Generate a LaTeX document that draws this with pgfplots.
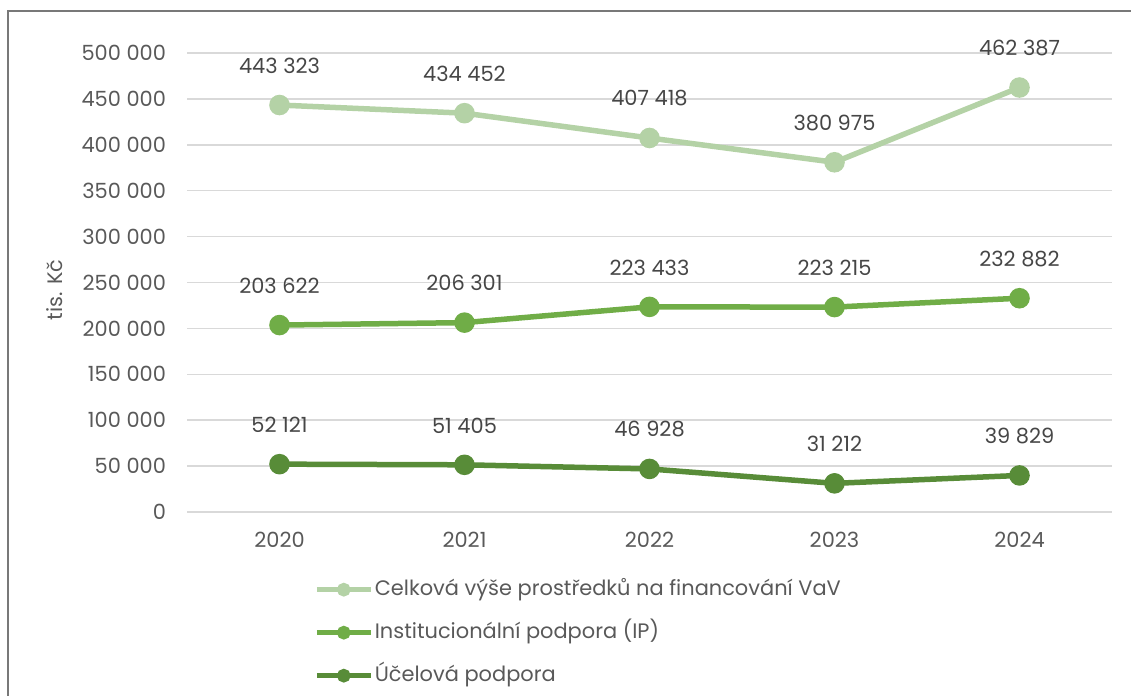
\documentclass[border=0pt]{standalone}
\usepackage{pgfplots}
\pgfplotsset{compat=1.18}
\usepackage{fontspec}
\setmainfont{Poppins}

\definecolor{svetla}{RGB}{180,210,166}
\definecolor{stredni}{RGB}{112,173,71}
\definecolor{tmava}{RGB}{88,140,56}
\definecolor{mrizka}{RGB}{217,217,217}
\definecolor{ramecek}{RGB}{120,120,120}
\definecolor{popisky}{RGB}{89,89,89}
\definecolor{hodnoty}{RGB}{70,70,70}

\begin{document}
\begin{tikzpicture}
\useasboundingbox (0,0) rectangle (565.5bp,348bp);
% orez ramecku grafu (jen levy a horni okraj)
\draw[color=ramecek, line width=0.75bp] (4bp,0) -- (4bp,342.5bp) -- (565.5bp,342.5bp);

\begin{axis}[
    at={(93.5bp,92bp)}, anchor=south west,
    scale only axis,
    width=462.5bp, height=229.5bp,
    xmin=-0.5, xmax=4.5,
    ymin=0, ymax=500000,
    xtick={0,1,2,3,4},
    xticklabels={2020,2021,2022,2023,2024},
    ytick={0,50000,100000,150000,200000,250000,300000,350000,400000,450000,500000},
    yticklabels={0,50 000,100 000,150 000,200 000,250 000,300 000,350 000,400 000,450 000,500 000},
    scaled y ticks=false,
    axis line style={draw=none},
    major tick length=0pt,
    ymajorgrids,
    grid style={color=mrizka, line width=0.75bp},
    tick label style={font=\fontsize{10.5}{12}\selectfont, color=popisky},
    yticklabel style={xshift=-7bp},
    xticklabel style={yshift=-6.75bp},
    clip=false,
    nodes near coords={\pgfplotspointmeta},
    point meta=explicit symbolic,
    every node near coord/.append style={anchor=south, yshift=12.5bp, inner sep=2bp,
        font=\fontsize{10.5}{12}\selectfont, color=hodnoty},
    legend style={at={(0.1373,-0.142)}, anchor=north west, draw=none, fill=none,
        font=\fontsize{10.5}{12}\selectfont, text=popisky,
        row sep=9.4bp, inner sep=0pt,
        nodes={inner sep=0.8bp, text height=8bp, text depth=2.5bp}},
    legend cell align=left,
    legend image code/.code={\draw[#1, line width=2.4bp, mark size=2.2bp, mark repeat=2, mark phase=2]
        plot coordinates {(0bp,0bp) (13.5bp,0bp) (27bp,0bp)};},
]

% Celkova vyse prostredku
\addplot[color=svetla, line width=2.75bp, mark=*, mark size=3.75bp,
    mark options={fill=svetla, draw=svetla}] coordinates {
    (0,443323) [443 323] (1,434452) [434 452] (2,407418) [407 418]
    (3,380975) [380 975] (4,462387) [462 387]
};
\addlegendentry{Celková výše prostředků na financování VaV}

% Institucionalni podpora
\addplot[color=stredni, line width=2.75bp, mark=*, mark size=3.75bp,
    mark options={fill=stredni, draw=stredni}] coordinates {
    (0,203622) [203 622] (1,206301) [206 301] (2,223433) [223 433]
    (3,223215) [223 215] (4,232882) [232 882]
};
\addlegendentry{Institucionální podpora (IP)}

% Ucelova podpora
\addplot[color=tmava, line width=2.75bp, mark=*, mark size=3.75bp,
    mark options={fill=tmava, draw=tmava}] coordinates {
    (0,52121) [52 121] (1,51405) [51 405] (2,46928) [46 928]
    (3,31212) [31 212] (4,39829) [39 829]
};
\addlegendentry{Účelová podpora}

\end{axis}

\node[rotate=90, font=\fontsize{10.5}{12}\selectfont, color=popisky] at (27.5bp,203bp) {tis. Kč};
\end{tikzpicture}
\end{document}
